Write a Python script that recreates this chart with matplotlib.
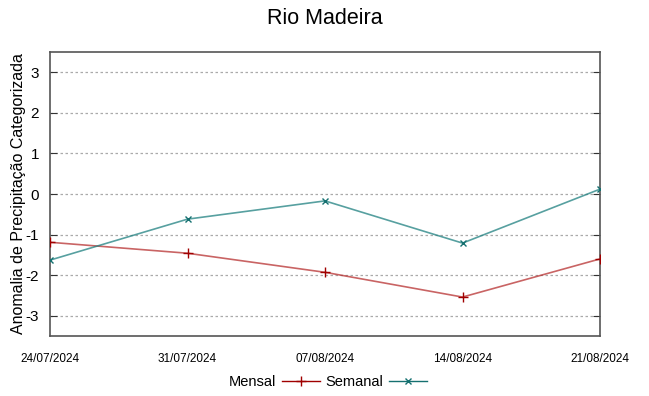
import matplotlib
matplotlib.use("Agg")
import matplotlib.pyplot as plt
import numpy as np
from matplotlib.lines import Line2D

plt.rcParams['font.family'] = ['Liberation Sans', 'DejaVu Sans']

dates = ["24/07/2024", "31/07/2024", "07/08/2024", "14/08/2024", "21/08/2024"]
mensal = [-1.19, -1.46, -1.93, -2.54, -1.60]
semanal = [-1.63, -0.62, -0.17, -1.21, 0.12]
yticks = [-3, -2, -1, 0, 1, 2, 3]

fig = plt.figure(figsize=(6.49, 3.96), dpi=100)
ax = fig.add_axes([50/649, 1-336/396, 550/649, 284/396])

x = np.arange(len(dates))
ax.plot(x, mensal, color='#b22222', lw=1.2, alpha=0.7, zorder=3)
ax.plot(x, mensal, color='#a00000', lw=0, marker='+', ms=7, mew=1, zorder=4)
ax.plot(x, semanal, color='#1f8080', lw=1.2, alpha=0.75, zorder=3)
ax.plot(x, semanal, color='#157070', lw=0, marker='x', ms=5, mew=1, zorder=4)

ax.set_xlim(0, len(dates)-1)
ax.set_ylim(-3.5, 3.5)
ax.set_yticks(yticks)
ax.set_yticklabels([str(v) for v in yticks], fontsize=11)
ax.set_xticks(x)
ax.set_xticklabels(dates, fontsize=8.5)
ax.tick_params(axis='y', direction='in', length=5, right=True, color='#333333', pad=8)
ax.tick_params(axis='x', direction='in', length=0, pad=12)
for yv in yticks:
    ax.axhline(yv, color='#aaaaaa', lw=0.9, ls=(0, (2, 2)), zorder=1)
for s in ax.spines.values():
    s.set_color('#555555')
    s.set_linewidth(1.2)

ax.set_ylabel("Anomalia de Precipitação Categorizada", fontsize=11.5)
ax.yaxis.set_label_coords(-(50-26)/550, 0.5)
fig.text(0.5, 1-18/396, "Rio Madeira", ha='center', va='center', fontsize=15.5)

h1 = Line2D([], [], color='#a00000', lw=1, marker='+', ms=7, mew=1)
h2 = Line2D([], [], color='#157070', lw=1, marker='x', ms=5, mew=1)
fig.legend([h1, h2], ["Mensal", "Semanal"], loc='center', bbox_to_anchor=(328/649, 1-382/396),
           ncol=2, frameon=False, markerfirst=False, fontsize=10.5, handlelength=2.6,
           columnspacing=0.4, handletextpad=0.4)

fig.savefig("out.png", dpi=100)
